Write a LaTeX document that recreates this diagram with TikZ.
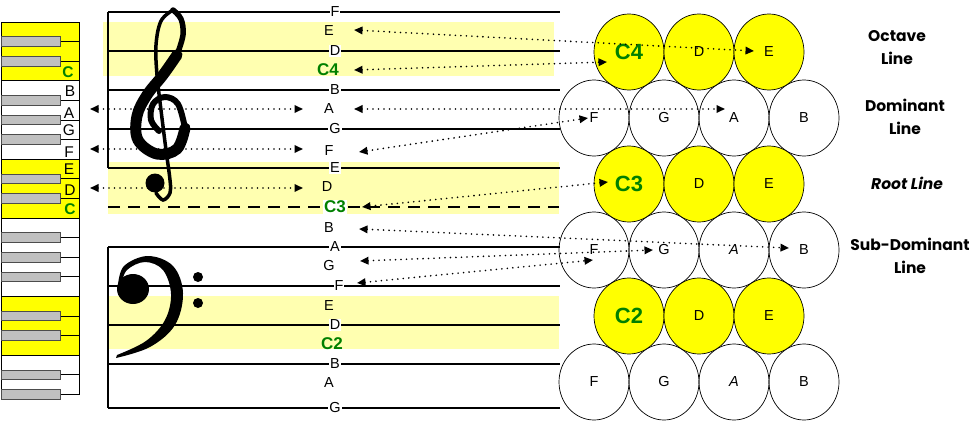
\documentclass[tikz,border=0pt]{standalone}
\usepackage{fontspec}
\setmainfont{Liberation Sans}
\newfontfamily\lblfont{Poppins}
\usetikzlibrary{arrows.meta,shapes.geometric}
\definecolor{paleyel}{RGB}{255,255,176}
\definecolor{keyyel}{RGB}{255,255,0}
\definecolor{cgreen}{RGB}{0,128,0}
\definecolor{keygray}{RGB}{192,192,192}
\begin{document}
\begin{tikzpicture}[x=1pt,y=-1pt,
  stafline/.style={line width=1.5pt},
  stbar/.style={line width=2.6pt},
  nt/.style={font=\fontsize{14.5}{16}\selectfont, inner sep=1pt},
  ntl/.style={nt, fill=white},
  cnt/.style={font=\fontsize{17}{19}\selectfont\bfseries, text=cgreen, inner sep=1pt},
  klab/.style={font=\fontsize{15.5}{17}\selectfont, inner sep=0pt},
  kclab/.style={font=\fontsize{15.5}{17}\selectfont\bfseries, text=cgreen, inner sep=0pt},
  wkey/.style={draw=black, line width=0.8pt},
  bkey/.style={draw=black!70, fill=keygray, line width=0.9pt},
  circw/.style={ellipse, draw, line width=0.7pt, minimum width=70pt, minimum height=76pt, inner sep=0pt, font=\fontsize{14.5}{16}\selectfont},
  circy/.style={circw, fill=keyyel},
  bigc/.style={font=\fontsize{22}{24}\selectfont\bfseries, text=cgreen},
  dotarr/.style={line width=1.8pt, line cap=round, dash pattern=on 0pt off 5.5pt,
     {Triangle[length=8.5pt,width=7.5pt]}-{Triangle[length=8.5pt,width=7.5pt]}},
  side/.style={font={\lblfont\bfseries\fontsize{15.5}{23}\selectfont}, align=center}
]
\useasboundingbox (0,0) rectangle (976,420);
\fill[white] (0,0) rectangle (976,420);

% ---------- keyboard ----------
\foreach \k/\c in {0/keyyel,1/keyyel,2/keyyel,3/white,4/white,5/white,6/white,
                   7/keyyel,8/keyyel,9/keyyel,10/white,11/white,12/white,13/white,
                   14/keyyel,15/keyyel,16/keyyel,17/white,18/white}
  \draw[wkey, fill=\c] (1,{22+19.6*\k}) rectangle (79,{22+19.6*(\k+1)});
\foreach \b in {1,2,4,5,6,8,9,11,12,13,15,16,18,19}
  \draw[bkey] (1,{22+19.6*\b-4.8}) rectangle (60,{22+19.6*\b+4.8});
\node[kclab] (kC5) at (68,72) {C};
\node[klab] (kB4) at (70,91) {B};
\node[klab] (kA4) at (69,113) {A};
\node[klab] (kG4) at (69,130) {G};
\node[klab] (kF4) at (69,152) {F};
\node[klab] (kE4) at (69,169) {E};
\node[klab] (kD4) at (70,190) {D};
\node[kclab] (kC4) at (70,209) {C};

% ---------- staves ----------
\fill[paleyel] (103,22) rectangle (554,76);
\fill[paleyel] (108,162) rectangle (559,214);
\fill[paleyel] (108,296) rectangle (559,349);
\foreach \y in {12,51,90,129,168} \draw[stafline] (108,\y) -- (560,\y);
\foreach \y in {247,286,325,364,408} \draw[stafline] (108,\y) -- (560,\y);
\draw[stbar] (108,12) -- (108,168);
\draw[stbar] (108,247) -- (108,408);
\draw[line width=1.5pt, dash pattern=on 12pt off 8pt] (108,207) -- (559,207);

% treble clef
\draw[line width=3.5pt, line cap=round] plot[smooth, tension=0.6] coordinates
  {(173,10) (161,21) (156,45) (157,75) (161,110) (166,150) (170,180) (170,193) (163,200) (156,193)};
\draw[line width=5.5pt, line cap=round] plot[smooth, tension=0.6] coordinates
  {(173,10) (181,19) (183,35) (177,55)};
\draw[line width=11pt, line cap=round] plot[smooth, tension=0.6] coordinates
  {(177,55) (163,75) (147,95) (137,116) (138,140) (157,154) (177,149) (185,128)};
\draw[line width=6pt, line cap=round] plot[smooth, tension=0.6] coordinates
  {(185,128) (178,104) (165,97) (153,104) (151,120) (159,131)};
\fill (155,183) circle[radius=9.5pt];

% bass clef
\fill plot[smooth, tension=0.6] coordinates {(118,285) (124,266) (148,256) (173,266) (183,293) (175,325) (150,347) (116,358)}
  -- plot[smooth, tension=0.6] coordinates {(117,355) (146,341) (165,320) (171,294) (163,270) (145,262) (127,270) (121,285)} -- cycle;
\fill (133,289) ellipse[x radius=16pt, y radius=15pt];
\fill (198,277) circle[radius=5pt];
\fill (198,303) circle[radius=5pt];

% staff labels
\node[ntl] (tF1) at (335,12) {F};
\node[nt]  (tE1) at (329,31) {E};
\node[ntl] (tD1) at (335,51) {D};
\node[cnt] (tC4) at (328,70) {C4};
\node[ntl] (tB1) at (335,90) {B};
\node[nt]  (tA1) at (329,109) {A};
\node[ntl] (tG1) at (335,129) {G};
\node[nt]  (tF2) at (329,151) {F};
\node[ntl] (tE2) at (335,168) {E};
\node[nt]  (tD2) at (327,187) {D};
\node[cnt, fill=white] (tC3) at (335,207) {C3};
\node[nt]  (bB1) at (329,228) {B};
\node[ntl] (bA1) at (335,247) {A};
\node[nt]  (bG1) at (329,266) {G};
\node[ntl] (bF1) at (339,286) {F};
\node[nt]  (bE1) at (329,306) {E};
\node[ntl] (bD1) at (335,325) {D};
\node[cnt] (bC2) at (332,344) {C2};
\node[ntl] (bB2) at (335,364) {B};
\node[nt]  (bA2) at (329,383) {A};
\node[ntl] (bG2) at (335,408) {G};

% ---------- circles ----------
\node[circw] (rDf) at (594,118) {F};
\node[circw] (rDg) at (664,118) {G};
\node[circw] (rDa) at (734,118) {A};
\node[circw] (rDb) at (804,118) {B};
\node[circw] (rSf) at (594,250) {F};
\node[circw] (rSg) at (664,250) {G};
\node[circw] (rSa) at (734,250) {\itshape A};
\node[circw] (rSb) at (804,250) {B};
\node[circw] (rLf) at (594,382) {F};
\node[circw] (rLg) at (664,382) {G};
\node[circw] (rLa) at (734,382) {\itshape A};
\node[circw] (rLb) at (804,382) {B};
\node[circy, bigc] (rOc) at (629,52) {C4};
\node[circy] (rOd) at (699,52) {D};
\node[circy] (rOe) at (769,52) {E};
\node[circy, bigc] (rRc) at (629,184) {C3};
\node[circy] (rRd) at (699,184) {D};
\node[circy] (rRe) at (769,184) {E};
\node[circy, bigc] (rBc) at (629,316) {C2};
\node[circy] (rBd) at (699,316) {D};
\node[circy] (rBe) at (769,316) {E};

% ---------- arrows ----------
\coordinate (pE4) at (354,30);  \coordinate (qE4) at (754,51);
\coordinate (pC4) at (354,70);  \coordinate (qC4) at (607,62);
\coordinate (pA4) at (354,109); \coordinate (qA4) at (725,109);
\coordinate (pF4) at (359,152); \coordinate (qF4) at (588,118);
\coordinate (pC3) at (362,207); \coordinate (qC3) at (608,182);
\coordinate (pB3) at (359,229); \coordinate (qB3) at (789,248);
\coordinate (pG3) at (360,261); \coordinate (qG3) at (653,250);
\coordinate (pF3) at (357,283); \coordinate (qF3) at (593,260);
\coordinate (kAl) at (90,109);  \coordinate (kAr) at (303,109);
\coordinate (kFl) at (90,149);  \coordinate (kFr) at (303,149);
\coordinate (kDl) at (90,188);  \coordinate (kDr) at (303,188);
\draw[dotarr] (pE4) -- (qE4);
\draw[dotarr] (pC4) -- (qC4);
\draw[dotarr] (pA4) -- (qA4);
\draw[dotarr] (pF4) -- (qF4);
\draw[dotarr] (pC3) -- (qC3);
\draw[dotarr] (pB3) -- (qB3);
\draw[dotarr] (pG3) -- (qG3);
\draw[dotarr] (pF3) -- (qF3);
\draw[dotarr] (kAl) -- (kAr);
\draw[dotarr] (kFl) -- (kFr);
\draw[dotarr] (kDl) -- (kDr);

% ---------- side labels ----------
\node[side] (octl) at (897,48) {Octave\\Line};
\node[side] (doml) at (905,117) {Dominant\\Line};
\node[side, font={\lblfont\bfseries\itshape\fontsize{15.5}{23}\selectfont}] (rootl) at (907,183) {Root Line};
\node[side] (subl) at (910,256) {Sub-Dominant\\Line};
\end{tikzpicture}
\end{document}
